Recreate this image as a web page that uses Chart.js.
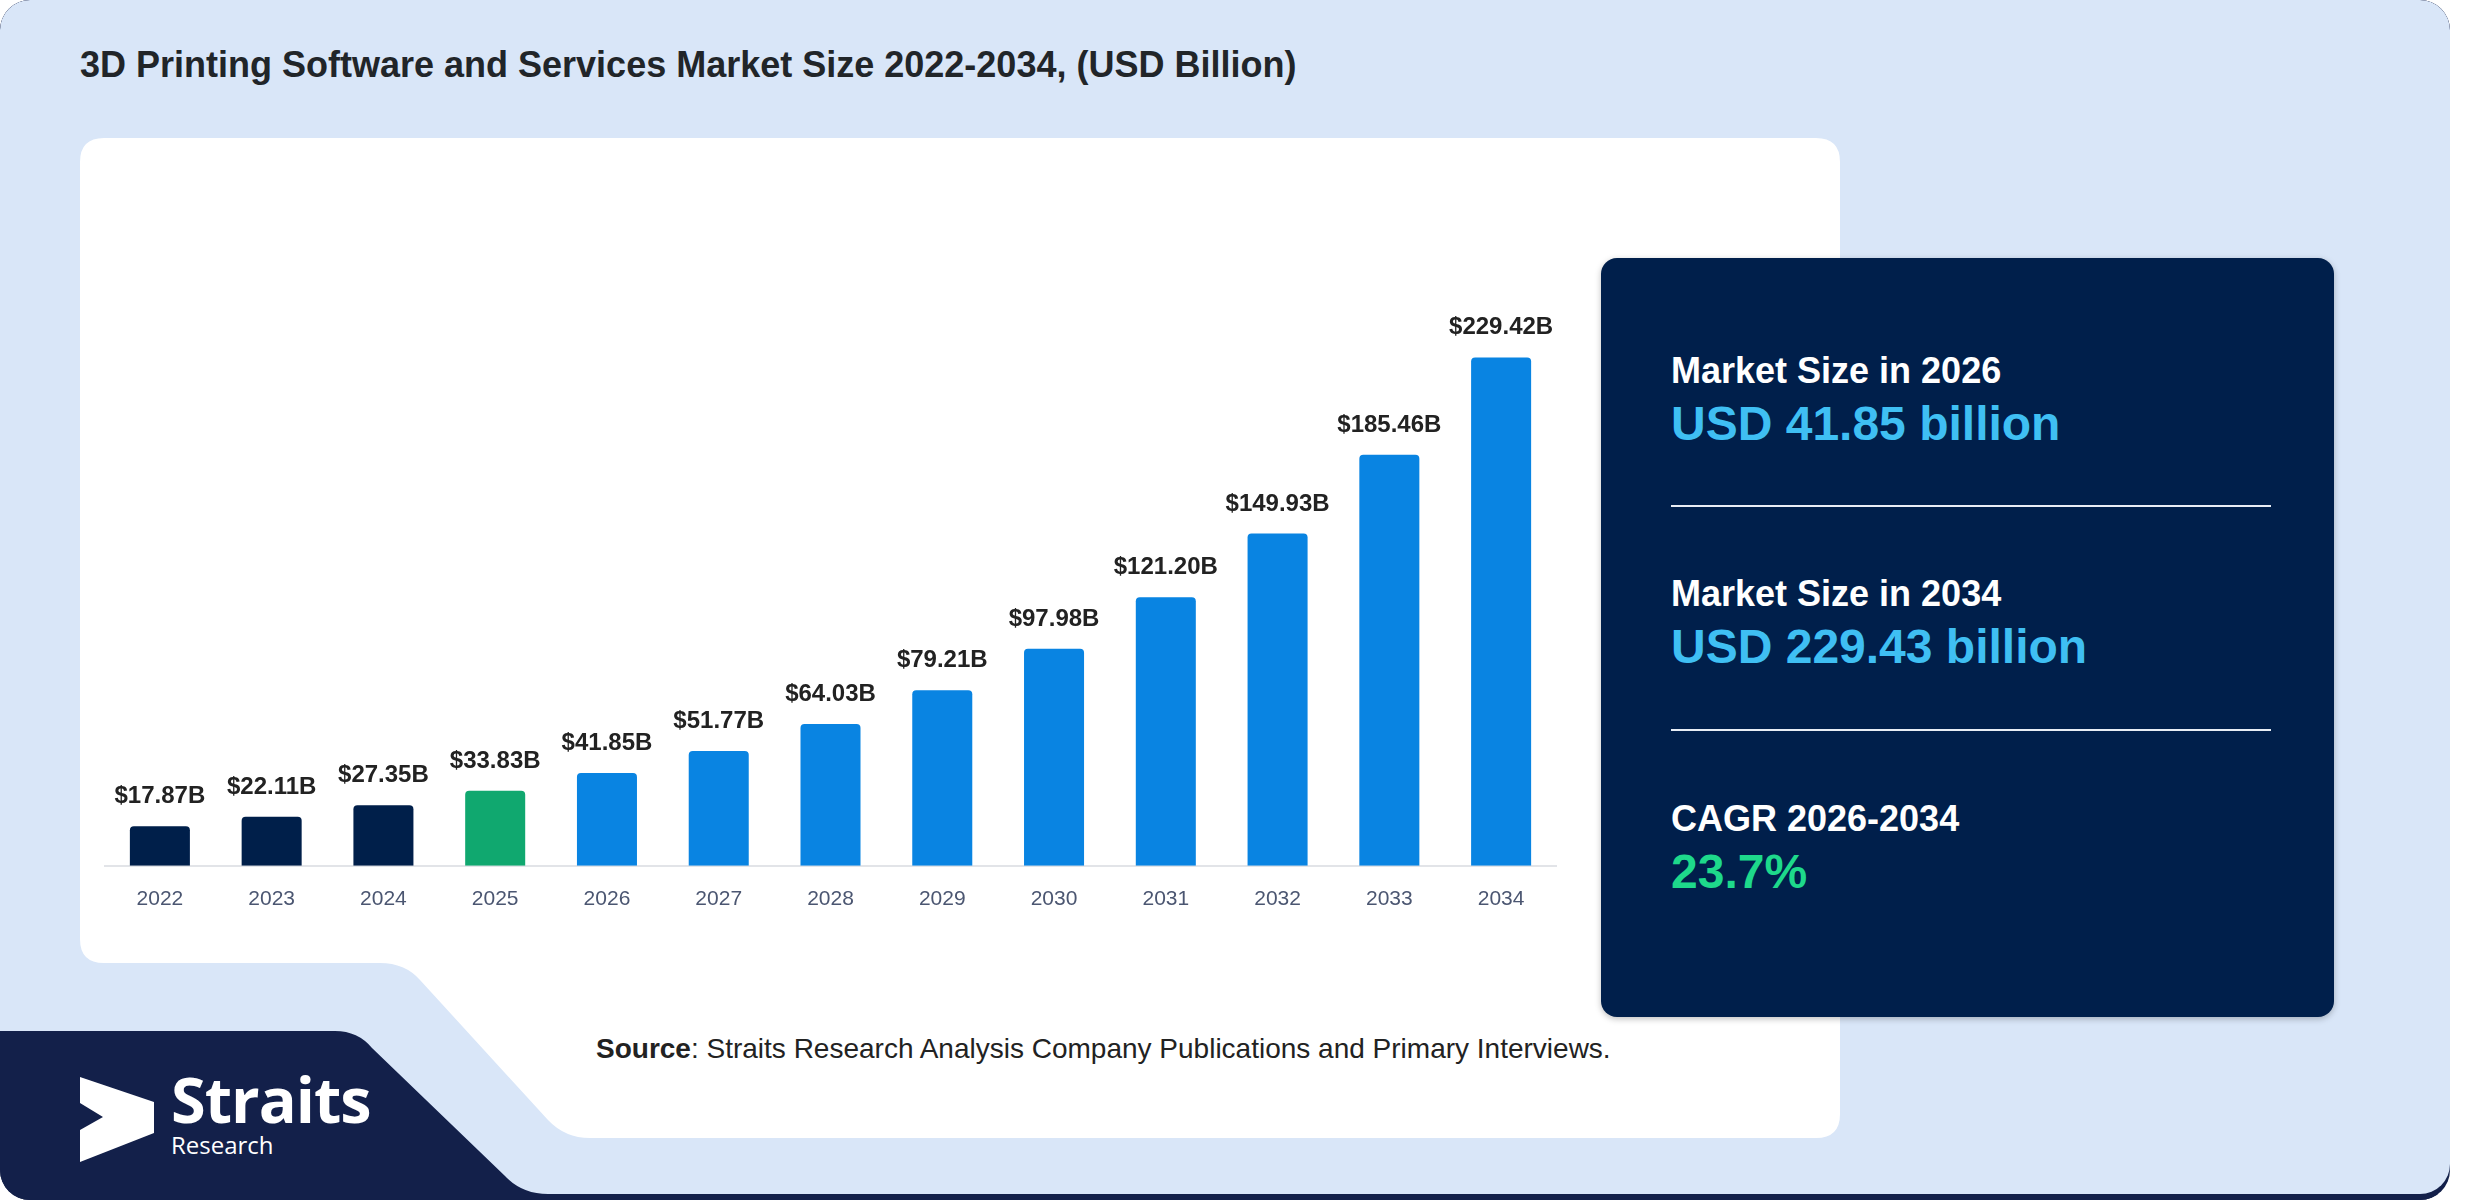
<!DOCTYPE html>
<html>
<head>
<meta charset="utf-8">
<title>3D Printing Software and Services Market Size</title>
<script src="https://cdn.jsdelivr.net/npm/chart.js@4.4.1/dist/chart.umd.min.js"></script>
<style>
    html, body { margin: 0; padding: 0; background: #ffffff; }
    body { width: 2480px; height: 1200px; position: relative; overflow: hidden; font-family: "Liberation Sans", Arial, sans-serif; }
    #bg { position: absolute; left: 0; top: 0; }
    .title { position: absolute; left: 80px; top: 44px; font-size: 36px; font-weight: bold; color: #212529; white-space: nowrap; }
    #chartBox { position: absolute; left: 104px; top: 201px; width: 1453px; height: 732px; }
    .card { position: absolute; left: 1601px; top: 258px; width: 733px; height: 759px; background: #001f4b; border-radius: 16px; box-shadow: 0 2px 6px rgba(0, 0, 0, 0.25); }
    .stat { position: absolute; left: 70px; white-space: nowrap; }
    .stat .lbl { font-size: 36px; font-weight: bold; color: #ffffff; line-height: 40px; }
    .stat .val { font-size: 48px; font-weight: bold; line-height: 54px; margin-top: 6px; }
    .rule { position: absolute; left: 70px; width: 600px; height: 2px; background: #e8edf5; }
    .source { position: absolute; left: 596px; top: 1033px; font-size: 28px; color: #222222; white-space: nowrap; }
    .brand { position: absolute; left: 171px; top: 1064px; color: #ffffff; font-family: "Open Sans", sans-serif; }
    .brand .big { font-size: 63px; font-weight: bold; line-height: 70px; letter-spacing: -1px; }
    .brand .small { font-size: 24px; line-height: 26px; margin-top: -2px; }
</style>
</head>
<body>

<svg id="bg" width="2480" height="1200" viewBox="0 0 2480 1200">
    <defs>
        <clipPath id="outer"><rect x="0" y="0" width="2450" height="1200" rx="30" ry="30"/></clipPath>
    </defs>
    <g clip-path="url(#outer)">
        <rect x="0" y="0" width="2450" height="1200" fill="#13204a"/>
        <rect x="0" y="0" width="2450" height="1194" rx="30" ry="30" fill="#d9e6f8"/>
        <!-- white chart panel with the stepped bottom -->
        <path d="M104,138 H1816 Q1840,138 1840,162 V1114 Q1840,1138 1816,1138 H590 Q565,1138 548,1120 L420,980 Q405,963 380,963 H104 Q80,963 80,939 V162 Q80,138 104,138 Z" fill="#ffffff"/>
        <!-- navy logo block -->
        <path d="M0,1031 H335 Q358,1031 372,1048 L505,1176 Q522,1194 548,1194 H2450 V1200 H0 Z" fill="#13204a"/>
    </g>
    <!-- logo mark -->
    <polygon points="80,1077 154,1102 154,1133 80,1162 80,1130 103,1117 80,1103" fill="#ffffff"/>
</svg>

<div class="title">3D Printing Software and Services Market Size 2022-2034, (USD Billion)</div>

<div id="chartBox"><canvas id="marketChart"></canvas></div>

<div class="card">
    <div class="stat" style="top: 93px;">
        <div class="lbl">Market Size in 2026</div>
        <div class="val" style="color: #3fbff3;">USD 41.85 billion</div>
    </div>
    <div class="rule" style="top: 247px;"></div>
    <div class="stat" style="top: 316px;">
        <div class="lbl">Market Size in 2034</div>
        <div class="val" style="color: #3fbff3;">USD 229.43 billion</div>
    </div>
    <div class="rule" style="top: 471px;"></div>
    <div class="stat" style="top: 541px;">
        <div class="lbl">CAGR 2026-2034</div>
        <div class="val" style="color: #1ed98b;">23.7%</div>
    </div>
</div>

<div class="source"><b>Source</b>: Straits Research Analysis Company Publications and Primary Interviews.</div>

<div class="brand">
    <div class="big">Straits</div>
    <div class="small">Research</div>
</div>

<script>
// Market size per year, USD billion
const years = ['2022', '2023', '2024', '2025', '2026', '2027', '2028',
               '2029', '2030', '2031', '2032', '2033', '2034'];
const marketSize = [17.87, 22.11, 27.35, 33.83, 41.85, 51.77, 64.03,
                    79.21, 97.98, 121.20, 149.93, 185.46, 229.42];
const baseYear = 2025;

// history / base year / forecast
function barColor(year) {
    const y = Number(year);
    if (y < baseYear) return '#001f4a';
    if (y === baseYear) return '#10a86f';
    return '#0984e2';
}

// value labels on top of each bar
const barValueLabels = {
    id: 'barValueLabels',
    afterDatasetsDraw(chart) {
        const ctx = chart.ctx;
        const meta = chart.getDatasetMeta(0);
        ctx.save();
        ctx.font = 'bold 24px "Liberation Sans", Arial, sans-serif';
        ctx.fillStyle = '#222222';
        ctx.textAlign = 'center';
        ctx.textBaseline = 'alphabetic';
        meta.data.forEach((bar, i) => {
            ctx.fillText('$' + marketSize[i].toFixed(2) + 'B', bar.x, bar.y - 23);
        });
        ctx.restore();
    }
};

function initializeMarketChart() {
    const ctx = document.getElementById('marketChart');
    if (!ctx) return;

    new Chart(ctx, {
        type: 'bar',
        data: {
            labels: years,
            datasets: [{
                label: 'Market Size (USD Billion)',
                data: marketSize,
                backgroundColor: years.map(barColor),
                borderRadius: 4,
                barPercentage: 0.537,
                categoryPercentage: 1
            }]
        },
        options: {
            responsive: true,
            maintainAspectRatio: false,
            animation: false,
            layout: { padding: 0 },
            plugins: { legend: { display: false }, tooltip: { enabled: false } },
            scales: {
                x: {
                    grid: { display: true, drawTicks: false, color: 'transparent' },
                    border: { display: true, color: '#e2e4e8', width: 2 },
                    ticks: {
                        color: '#4b5671',
                        padding: 21,
                        font: { family: '"Liberation Sans", Arial, sans-serif', size: 21 }
                    }
                },
                y: {
                    display: false,
                    min: 0,
                    max: 300
                }
            }
        },
        plugins: [barValueLabels]
    });
}

document.addEventListener('DOMContentLoaded', initializeMarketChart);
</script>
</body>
</html>
